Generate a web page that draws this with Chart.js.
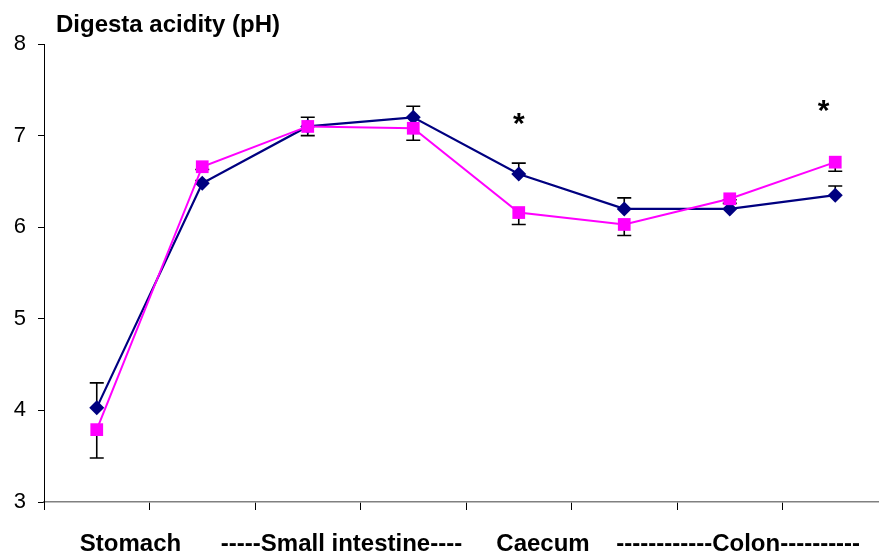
<!DOCTYPE html>
<html>
<head>
<meta charset="utf-8">
<script src="https://cdn.jsdelivr.net/npm/chart.js@4/dist/chart.umd.min.js"></script>
<style>
  html, body { margin: 0; padding: 0; background: #fff; overflow: hidden; }
  #wrap { width: 900px; height: 554px; position: relative; }
</style>
</head>
<body>
<div id="wrap"><canvas id="phChart"></canvas></div>
<script>
// Data
const categories = ['1', '2', '3', '4', '5', '6', '7', '8'];
const seriesA = [4.03, 6.48, 7.1, 7.2, 6.58, 6.2, 6.2, 6.35];      // navy diamonds
const seriesAErr = [0.27, 0.03, 0.1, 0.12, 0.12, 0.12, 0.1, 0.1];   // drawn upward
const seriesB = [3.79, 6.66, 7.1, 7.08, 6.16, 6.03, 6.31, 6.71];   // magenta squares
const seriesBErr = [0.31, 0.03, 0.1, 0.13, 0.13, 0.12, 0.05, 0.1];  // drawn downward
const yTicks = [3, 4, 5, 6, 7, 8];
const groupLabels = ['Stomach', '-----Small intestine----', 'Caecum', '------------Colon----------'];
const groupPos = [0.32, 2.32, 4.23, 6.08];
const starPos = [[4, 7.12], [6.89, 7.26]];

const errorBars = {
    id: 'errorBars',
    beforeDatasetsDraw(chart) {
        const ctx = chart.ctx;
        const y = chart.scales.y;
        const sets = [[0, seriesA, seriesAErr, 1], [1, seriesB, seriesBErr, -1]];
        ctx.save();
        ctx.strokeStyle = '#000';
        ctx.lineWidth = 1.6;
        sets.forEach(([idx, vals, errs, dir]) => {
            const meta = chart.getDatasetMeta(idx);
            meta.data.forEach((pt, i) => {
                const y0 = y.getPixelForValue(vals[i]);
                const y1 = y.getPixelForValue(vals[i] + dir * errs[i]);
                ctx.beginPath();
                ctx.moveTo(pt.x, y0);
                ctx.lineTo(pt.x, y1);
                ctx.moveTo(pt.x - 7, y1);
                ctx.lineTo(pt.x + 7, y1);
                ctx.stroke();
            });
        });
        ctx.restore();
    }
};

const extraText = {
    id: 'extraText',
    afterDraw(chart) {
        const ctx = chart.ctx;
        const x = chart.scales.x;
        const y = chart.scales.y;
        const step = x.getPixelForValue(1) - x.getPixelForValue(0);
        ctx.save();
        ctx.fillStyle = '#000';
        // title
        ctx.font = 'bold 24px "Liberation Sans", Arial, sans-serif';
        ctx.textAlign = 'left';
        ctx.textBaseline = 'alphabetic';
        ctx.fillText('Digesta acidity (pH)', 56, 32);
        // group labels under the axis
        ctx.textAlign = 'center';
        groupLabels.forEach((t, i) => {
            const px = x.getPixelForValue(0) + groupPos[i] * step;
            ctx.fillText(t, px, 551);
        });
        // significance marks
        ctx.font = 'bold 30px "Liberation Sans", Arial, sans-serif';
        ctx.textBaseline = 'middle';
        starPos.forEach(([c, v]) => {
            const px = x.getPixelForValue(0) + c * step;
            ctx.fillText('*', px, y.getPixelForValue(v));
        });
        ctx.restore();
    }
};

new Chart(document.getElementById('phChart'), {
    type: 'line',
    data: {
        labels: categories,
        datasets: [
            {
                label: 'A',
                data: seriesA,
                borderColor: '#000080',
                backgroundColor: '#000080',
                borderWidth: 2.2,
                pointStyle: 'rectRot',
                pointRadius: 7.5,
                pointBorderWidth: 0,
                tension: 0,
                order: 2
            },
            {
                label: 'B',
                data: seriesB,
                borderColor: '#ff00ff',
                backgroundColor: '#ff00ff',
                borderWidth: 2,
                pointStyle: 'rect',
                pointRadius: 9,
                pointBorderWidth: 0,
                tension: 0,
                order: 1
            }
        ]
    },
    options: {
        responsive: true,
        maintainAspectRatio: false,
        animation: false,
        layout: { padding: { top: 44, right: 12, left: 0, bottom: 0 } },
        plugins: {
            legend: { display: false },
            tooltip: { enabled: false }
        },
        scales: {
            x: {
                offset: true,
                grid: { offset: true, drawOnChartArea: false, drawTicks: true, tickLength: 8, color: '#000', lineWidth: 1 },
                border: { color: '#808080', width: 1.5 },
                ticks: { display: false },
                afterFit(scale) { scale.height = 52; }
            },
            y: {
                min: 3,
                max: 8,
                afterBuildTicks(scale) { scale.ticks = yTicks.map(v => ({ value: v })); },
                grid: { drawOnChartArea: false, drawTicks: true, tickLength: 6, color: '#000', lineWidth: 1 },
                border: { color: '#000', width: 1 },
                ticks: {
                    padding: 12,
                    color: '#000',
                    font: { family: '"Liberation Sans", Arial, sans-serif', size: 22 }
                },
                afterFit(scale) { scale.width = 44; }
            }
        }
    },
    plugins: [errorBars, extraText]
});
</script>
</body>
</html>
